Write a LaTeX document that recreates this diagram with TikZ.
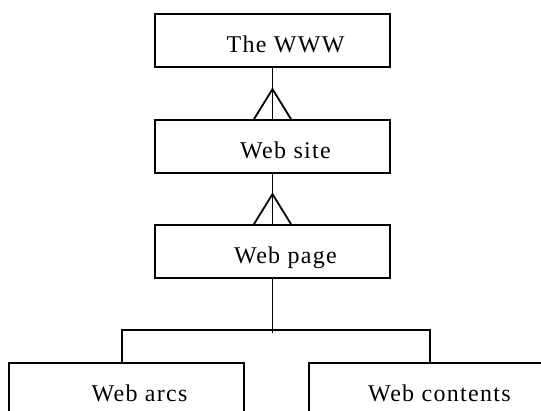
\documentclass[tikz,border=0pt]{standalone}
\usepackage{fontspec}
\setmainfont{Liberation Serif}[LetterSpace=5.5]
\usetikzlibrary{calc}
\begin{document}
\begin{tikzpicture}[x=1pt,y=1pt,
  box/.style={draw,line width=1.8pt,rectangle,minimum width=235pt,minimum height=53pt,
    inner sep=0pt,text height=28pt,text depth=4pt,font=\fontsize{24}{28}\selectfont},
  conn/.style={line width=1.8pt}]
\useasboundingbox (0,0) rectangle (541,410);
\node[box] (www) at (272.5,369.5) {\hspace*{26pt}The WWW};
\node[box] (site) at (272.5,263.5) {\hspace*{26pt}Web site};
\node[box] (page) at (272.5,158.5) {\hspace*{26pt}Web page};
\node[box] (arcs) at (126.5,20.5) {\hspace*{26pt}Web arcs};
\node[box] (cont) at (426.5,20.5) {\hspace*{26pt}Web contents};
% crow's foot WWW - site
\draw[conn] (www.south) -- (site.north);
\coordinate (a1) at ($(site.north)+(0,30)$);
\draw[conn] ($(site.north)+(-18.5,0)$) -- (a1) -- ($(site.north)+(18.5,0)$);
% crow's foot site - page
\draw[conn] (site.south) -- (page.north);
\coordinate (a2) at ($(page.north)+(0,30)$);
\draw[conn] ($(page.north)+(-18.5,0)$) -- (a2) -- ($(page.north)+(18.5,0)$);
% tree to bottom boxes
\coordinate (j) at (272.5,77);
\coordinate (hl) at (122,80);
\coordinate (hr) at (430,80);
\draw[conn] (page.south) -- (j);
\draw[conn] (hl |- arcs.north) -- (hl) -- (hr) -- (hr |- cont.north);
\end{tikzpicture}
\end{document}
